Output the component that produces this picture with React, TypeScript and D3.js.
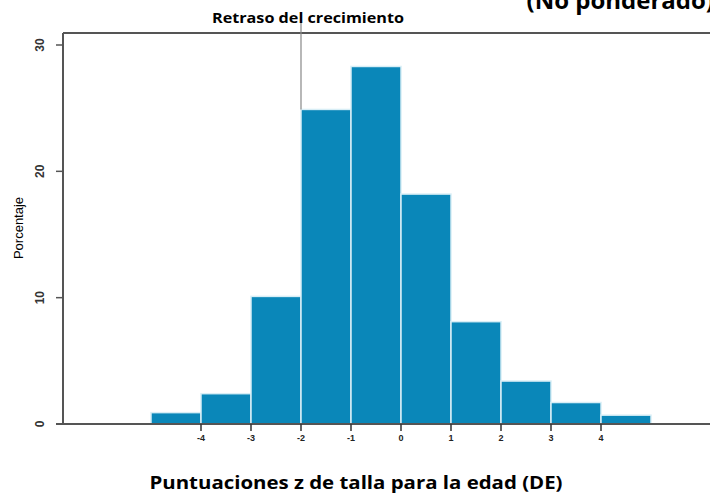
import React from "react";
import * as d3 from "d3";

const binStarts = [-5, -4, -3, -2, -1, 0, 1, 2, 3, 4];
const percents = [0.9, 2.4, 10.1, 24.9, 28.3, 18.2, 8.1, 3.4, 1.7, 0.7];
const xTicks = [-4, -3, -2, -1, 0, 1, 2, 3, 4];
const yTicks = [0, 10, 20, 30];
const cutoff = -2;

export default function App() {
  const W = 710, H = 493;
  const x = d3.scaleLinear().domain([-5, 5]).range([151, 651]);
  const y = d3.scaleLinear().domain([0, 30]).range([424, 45]);
  const frameLeft = 63, frameTop = 33;
  const bars = binStarts.map((b, i) => ({ x0: b, x1: b + 1, v: percents[i] }));
  const cutTop = y(percents[binStarts.indexOf(cutoff)]);
  return (
    <svg width={W} height={H} style={{ position: "absolute", left: 0, top: 0, background: "#fff" }}>
      <text x={714} y={9} textAnchor="end" fontFamily="'Open Sans', sans-serif" fontWeight="bold" fontSize={24} fill="#000">(No ponderado)</text>
      {bars.map((d, i) => (
        <rect key={i} x={x(d.x0)} y={y(d.v)} width={x(d.x1) - x(d.x0)} height={y(0) - y(d.v)}
          fill="#0a87b9" stroke="#d8eef6" strokeWidth={1.5} />
      ))}
      {/* frame */}
      <line x1={frameLeft} y1={frameTop} x2={W} y2={frameTop} stroke="#555" strokeWidth={2} />
      <line x1={frameLeft} y1={frameTop} x2={frameLeft} y2={y(0)} stroke="#555" strokeWidth={2} />
      <line x1={frameLeft - 7} y1={y(0)} x2={W} y2={y(0)} stroke="#555" strokeWidth={2} />
      {/* cutoff line */}
      <line x1={x(cutoff)} y1={22} x2={x(cutoff)} y2={cutTop} stroke="#888" strokeWidth={1.2} />
      <text x={308} y={23} textAnchor="middle" fontFamily="'Open Sans', sans-serif" fontWeight="bold" fontSize={14}
        textLength={192} lengthAdjust="spacingAndGlyphs" fill="#000">Retraso del crecimiento</text>
      {/* y axis */}
      {yTicks.map(t => (
        <g key={t}>
          <line x1={frameLeft - 7} x2={frameLeft} y1={y(t)} y2={y(t)} stroke="#555" strokeWidth={1.5} />
          <text transform={`translate(${44},${y(t)}) rotate(-90)`} textAnchor="middle" fontFamily="'Liberation Sans', Arial, sans-serif"
            fontWeight="bold" fontSize={12} fill="#333">{t}</text>
        </g>
      ))}
      <text transform={`translate(${23},${228}) rotate(-90)`} textAnchor="middle" fontFamily="'Liberation Sans', Arial, sans-serif"
        fontSize={13} fill="#000">Porcentaje</text>
      {/* x axis */}
      {xTicks.map(t => (
        <g key={t}>
          <line x1={x(t)} x2={x(t)} y1={y(0)} y2={y(0) + 7} stroke="#333" strokeWidth={1.5} />
          <text x={x(t)} y={y(0) + 17} textAnchor="middle" fontFamily="'Liberation Sans', Arial, sans-serif"
            fontWeight="bold" fontSize={9} fill="#222">{t}</text>
        </g>
      ))}
      <text x={356} y={489} textAnchor="middle" fontFamily="'Open Sans', sans-serif" fontWeight="bold" fontSize={18}
        textLength={413} lengthAdjust="spacingAndGlyphs" fill="#000">Puntuaciones z de talla para la edad (DE)</text>
    </svg>
  );
}
